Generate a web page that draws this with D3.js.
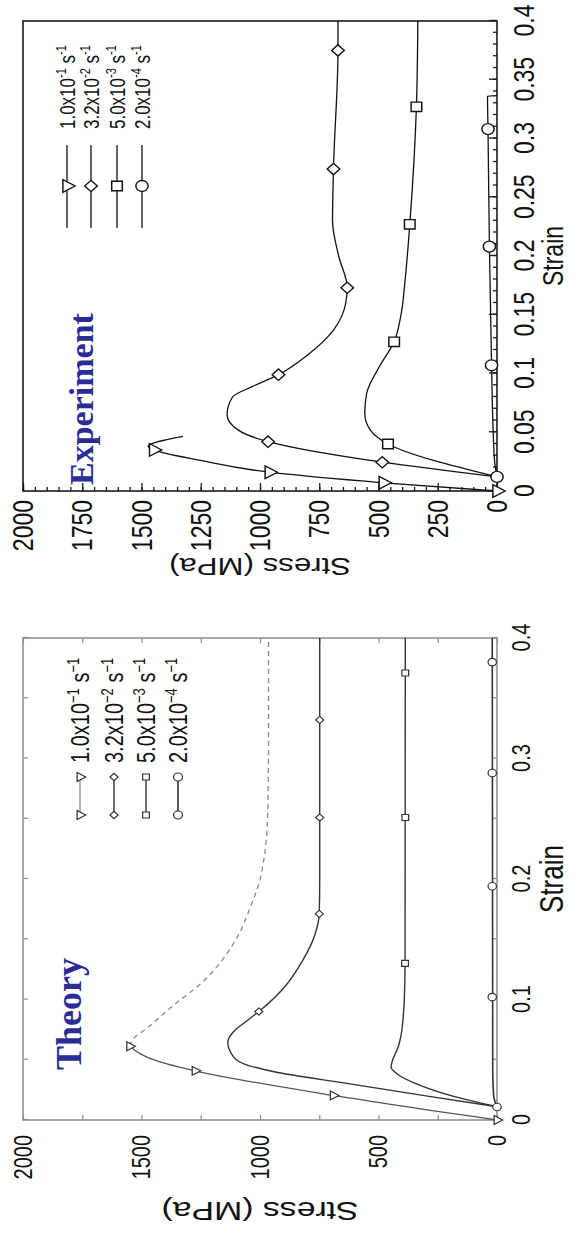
<!DOCTYPE html>
<html>
<head>
<meta charset="utf-8">
<script src="https://cdn.jsdelivr.net/npm/d3@7/dist/d3.min.js"></script>
<style>
html,body{margin:0;padding:0;background:#fff;}
svg{display:block;}
</style>
</head>
<body>
<svg id="chart" width="572" height="1237"></svg>
<script>
// ---------------- DATA ----------------
// Experiment axes
const expStrainTicks  = [0, 0.05, 0.1, 0.15, 0.2, 0.25, 0.3, 0.35, 0.4];
const expStrainLabels = ["0","0.05","0.1","0.15","0.2","0.25","0.3","0.35","0.4"];
const expStrainMinor  = d3.range(0, 0.4001, 0.01);
const expStressTicks  = [0, 250, 500, 750, 1000, 1250, 1500, 1750, 2000];
const expStressLabels = ["0","250","500","750","1000","1250","1500","1750","2000"];
const expStressMinor  = d3.range(0, 2001, 50);

// Theory axes
const thStrainTicks  = [0, 0.1, 0.2, 0.3, 0.4];
const thStrainLabels = ["0","0.1","0.2","0.3","0.4"];
const thStrainMinor  = [0.05, 0.15, 0.25, 0.35];
const thStressTicks  = [0, 500, 1000, 1500, 2000];
const thStressLabels = ["0","500","1000","1500","2000"];
const thStressMinor  = [250, 750, 1250, 1750];

// Legend (strain rates)
const rateMantissa = ["1.0x10", "3.2x10", "5.0x10", "2.0x10"];
const rateExponent = ["1", "2", "3", "4"];

// Experiment series [strain, stress MPa]
const expTri      = [[0,0],[0.007,480],[0.016,961],[0.026,1250],[0.035,1449],[0.038,1472],[0.0465,1325]];
const expTriMarks = [[0,0],[0.007,480],[0.016,961],[0.035,1449]];
const expDia      = [[0.012,0],[0.0245,484],[0.042,966],[0.052,1093],[0.065,1139],[0.08,1116],[0.089,1031],[0.099,922],[0.116,798],[0.137,690],[0.16,638],[0.173,632],[0.2,668],[0.23,694],[0.274,690],[0.375,671],[0.4,671]];
const expDiaMarks = [[0.0245,484],[0.042,966],[0.099,922],[0.173,632],[0.274,690],[0.375,671]];
const expSq       = [[0.012,0],[0.04,460],[0.052,535],[0.066,558],[0.083,550],[0.106,496],[0.127,434],[0.15,405],[0.179,388],[0.227,368],[0.327,340],[0.4,334]];
const expSqMarks  = [[0.04,460],[0.127,434],[0.227,368],[0.327,340]];
const expCir      = [[0.012,0],[0.025,10],[0.05,16],[0.107,23],[0.208,32],[0.308,38],[0.336,40],[0.3365,0]];
const expCirMarks = [[0.012,0],[0.107,23],[0.208,32],[0.308,38]];

// Theory series [strain, stress MPa]
const thTri       = [[0,0],[0.0204,691],[0.0408,1274],[0.049,1435],[0.0612,1550]];
const thTriMarks  = [[0,0],[0.0204,691],[0.0408,1274],[0.0612,1550]];
const thTriDash   = [[0.0612,1550],[0.069,1527],[0.0744,1489],[0.0937,1374],[0.1157,1236],[0.146,1113],[0.179,1036],[0.201,998],[0.257,967],[0.32,964],[0.4,964]];
const thDia       = [[0.011,0],[0.02,300],[0.03,620],[0.04,940],[0.046,1060],[0.052,1110],[0.0647,1136],[0.073,1113],[0.083,1051],[0.09,1005],[0.11,898],[0.132,821],[0.154,768],[0.171,750],[0.2,748],[0.4,748]];
const thDiaMarks  = [[0.09,1005],[0.171,750],[0.251,748],[0.332,748]];
const thSq        = [[0.011,0],[0.02,190],[0.03,340],[0.038,420],[0.044,447],[0.05,440],[0.06,418],[0.07,405],[0.085,396],[0.1,391],[0.13,388],[0.4,387]];
const thSqMarks   = [[0.13,388],[0.251,387],[0.371,387]];
const thCir       = [[0.0108,0],[0.02,14],[0.04,18],[0.4,20]];
const thCirMarks  = [[0.0108,0],[0.102,20],[0.194,20],[0.288,20],[0.38,20]];

// ---------------- RENDER ----------------
const svg = d3.select("#chart");
const FONT  = "'Liberation Sans', Arial, Helvetica, sans-serif";
const SERIF = "'Liberation Serif', 'Times New Roman', serif";
const S  = 1.3;   // glyph stretch along page x
const SM = 1.12;  // marker stretch

const symbols = {
  tri: {type: d3.symbolTriangle, rot: 180},
  dia: {type: d3.symbolSquare,   rot: 45},
  sq:  {type: d3.symbolSquare,   rot: 0},
  cir: {type: d3.symbolCircle,   rot: 0}
};

function addMarker(g, kind, size, px, py, color, sw) {
  const s = symbols[kind];
  g.append("path")
    .attr("d", d3.symbol().type(s.type).size(size)())
    .attr("transform", `translate(${px},${py}) scale(1,${SM}) rotate(${s.rot})`)
    .attr("fill", "#fff").attr("stroke", color).attr("stroke-width", sw);
}

function axis(g, gen, transform, o, fs) {
  const a = g.append("g").attr("transform", transform).call(gen);
  a.select(".domain").remove();
  a.attr("color", o.tickColor).attr("font-family", FONT).attr("font-size", fs);
  a.selectAll("line").attr("stroke-width", o.tickWidth);
  a.selectAll("text").attr("transform", `scale(1,${S})`).attr("fill", "#111");
  return a;
}

function fmt(ticks, labels) { return d => { const i = ticks.findIndex(t => Math.abs(t - d) < 1e-9); return i < 0 ? "" : labels[i]; }; }

function drawPanel(o) {
  const g = svg.append("g").attr("transform", `translate(${o.x0},${o.y0}) rotate(-90)`);
  const x = d3.scaleLinear().domain([0, 0.4]).range([0, o.w]);
  const y = d3.scaleLinear().domain([0, 2000]).range([o.h, 0]);

  // axes
  const minSz = -o.minorLen, majSz = -o.majorLen;
  axis(g, d3.axisBottom(x).tickValues(o.strainMinor).tickSizeInner(minSz).tickSizeOuter(0).tickFormat(""), `translate(0,${o.h})`, o, o.tickFont);
  axis(g, d3.axisBottom(x).tickValues(o.strainTicks).tickSizeInner(majSz).tickSizeOuter(0).tickPadding(o.strainPad).tickFormat(fmt(o.strainTicks, o.strainLabels)), `translate(0,${o.h})`, o, o.tickFont);
  axis(g, d3.axisLeft(y).tickValues(o.stressMinor).tickSizeInner(minSz).tickSizeOuter(0).tickFormat(""), `translate(0,0)`, o, o.tickFont);
  axis(g, d3.axisLeft(y).tickValues(o.stressTicks).tickSizeInner(majSz).tickSizeOuter(0).tickPadding(o.stressPad).tickFormat(fmt(o.stressTicks, o.stressLabels)), `translate(0,0)`, o, o.tickFont);
  if (o.mirror) {
    axis(g, d3.axisTop(x).tickValues(o.strainMinor.concat(o.strainTicks)).tickSizeInner(majSz).tickSizeOuter(0).tickFormat(""), `translate(0,0)`, o, o.tickFont);
    axis(g, d3.axisRight(y).tickValues(o.stressMinor.concat(o.stressTicks)).tickSizeInner(majSz).tickSizeOuter(0).tickFormat(""), `translate(${o.w},0)`, o, o.tickFont);
  }

  // frame
  g.append("rect").attr("width", o.w).attr("height", o.h)
    .attr("fill", "none").attr("stroke", o.frameColor).attr("stroke-width", o.frameWidth);

  // axis titles
  g.append("text").text("Stress (MPa)")
    .attr("transform", `translate(${o.stressTitleX},${o.h / 2}) scale(1,${S}) rotate(-90)`)
    .attr("text-anchor", "middle").attr("font-family", FONT).attr("font-size", o.titleFont).attr("fill", "#111");
  g.append("text").text("Strain")
    .attr("transform", `translate(${o.w / 2},${o.h + o.strainTitleY}) scale(1,${S})`)
    .attr("text-anchor", "middle").attr("font-family", FONT).attr("font-size", o.strainTitleFont).attr("fill", "#111");

  // panel label
  g.append("text").text(o.label)
    .attr("x", o.labelX).attr("y", o.labelY)
    .attr("font-family", SERIF).attr("font-weight", "bold").attr("font-size", o.labelFont)
    .attr("fill", "#2c2c96");

  // curves
  const line = d3.line().x(d => x(d[0])).y(d => y(d[1])).curve(d3.curveMonotoneX);
  o.series.forEach(s => {
    g.append("path").attr("d", line(s.data)).attr("fill", "none")
      .attr("stroke", s.color).attr("stroke-width", s.width)
      .attr("stroke-dasharray", s.dash || null);
  });
  o.series.forEach(s => {
    (s.marks || []).forEach(p => addMarker(g, s.kind, s.size, x(p[0]), y(p[1]), o.markColor, o.markWidth));
  });

  // legend
  const lg = g.append("g");
  o.legend.forEach((e, i) => {
    const ly = o.legendY[i];
    lg.append("line").attr("x1", o.legLine[0]).attr("x2", o.legLine[1]).attr("y1", ly).attr("y2", ly)
      .attr("stroke", e.color).attr("stroke-width", e.width);
    o.legMarkAt.forEach(mx => addMarker(lg, e.kind, e.size, mx, ly, o.markColor, o.markWidth));
    const t = lg.append("text")
      .attr("transform", `translate(${o.legText},${ly}) scale(1,${S})`)
      .attr("y", o.legFont * 0.36)
      .attr("font-family", FONT).attr("font-size", o.legFont).attr("fill", "#111");
    t.append("tspan").text(rateMantissa[i]);
    t.append("tspan").text(o.minus + rateExponent[i]).attr("font-size", o.supFont).attr("dy", -o.supShift);
    t.append("tspan").text(" s").attr("dy", o.supShift);
    t.append("tspan").text(o.minus + "1").attr("font-size", o.supFont).attr("dy", -o.supShift);
  });
}

// Experiment panel (top)
drawPanel({
  x0: 23, y0: 491, w: 470, h: 474,
  frameColor: "#1a1a1a", frameWidth: 1.6, tickColor: "#1a1a1a", tickWidth: 1.3,
  minorLen: 4, majorLen: 8, mirror: false,
  strainTicks: expStrainTicks, strainLabels: expStrainLabels, strainMinor: expStrainMinor,
  stressTicks: expStressTicks, stressLabels: expStressLabels, stressMinor: expStressMinor,
  tickFont: 23, strainPad: 12, stressPad: 9,
  titleFont: 24, stressTitleX: -67, strainTitleFont: 23, strainTitleY: 66,
  label: "Experiment", labelX: 6, labelY: 70, labelFont: 34,
  markColor: "#111", markWidth: 1.3,
  series: [
    {data: expTri, marks: expTriMarks, kind: "tri", size: 70, color: "#111", width: 1.3},
    {data: expDia, marks: expDiaMarks, kind: "dia", size: 64, color: "#111", width: 1.3},
    {data: expSq,  marks: expSqMarks,  kind: "sq",  size: 90, color: "#111", width: 1.3},
    {data: expCir, marks: expCirMarks, kind: "cir", size: 95, color: "#111", width: 1.3}
  ],
  legend: [
    {kind: "tri", size: 70, color: "#111", width: 1.3},
    {kind: "dia", size: 64, color: "#111", width: 1.3},
    {kind: "sq",  size: 90, color: "#111", width: 1.3},
    {kind: "cir", size: 95, color: "#111", width: 1.3}
  ],
  legendY: [44, 68, 94, 119], legLine: [263, 346], legMarkAt: [305], legText: 362,
  legFont: 17, supFont: 11, supShift: 7, minus: "-"
});

// Theory panel (bottom)
drawPanel({
  x0: 23, y0: 1120, w: 482, h: 474,
  frameColor: "#8a8a8a", frameWidth: 1.5, tickColor: "#8a8a8a", tickWidth: 1.2,
  minorLen: 5, majorLen: 5, mirror: true,
  strainTicks: thStrainTicks, strainLabels: thStrainLabels, strainMinor: thStrainMinor,
  stressTicks: thStressTicks, stressLabels: thStressLabels, stressMinor: thStressMinor,
  tickFont: 20, strainPad: 11, stressPad: 15,
  titleFont: 26, stressTitleX: -82, strainTitleFont: 26, strainTitleY: 66,
  label: "Theory", labelX: 50, labelY: 58, labelFont: 36,
  markColor: "#333", markWidth: 1.1,
  series: [
    {data: thTri,     marks: thTriMarks, kind: "tri", size: 34, color: "#555", width: 1.3},
    {data: thTriDash, marks: [],         kind: "tri", size: 34, color: "#8a8a8a", width: 1.3, dash: "5,4"},
    {data: thDia,     marks: thDiaMarks, kind: "dia", size: 26, color: "#333", width: 1.4},
    {data: thSq,      marks: thSqMarks,  kind: "sq",  size: 36, color: "#333", width: 1.4},
    {data: thCir,     marks: thCirMarks, kind: "cir", size: 44, color: "#333", width: 1.6}
  ],
  legend: [
    {kind: "tri", size: 34, color: "#8a8a8a", width: 1.3},
    {kind: "dia", size: 26, color: "#333", width: 1.4},
    {kind: "sq",  size: 36, color: "#333", width: 1.4},
    {kind: "cir", size: 50, color: "#333", width: 1.6}
  ],
  legendY: [57, 91, 123, 155], legLine: [305, 343], legMarkAt: [305, 343], legText: 357,
  legFont: 20, supFont: 13, supShift: 8, minus: "\u2212"
});
</script>
</body>
</html>
